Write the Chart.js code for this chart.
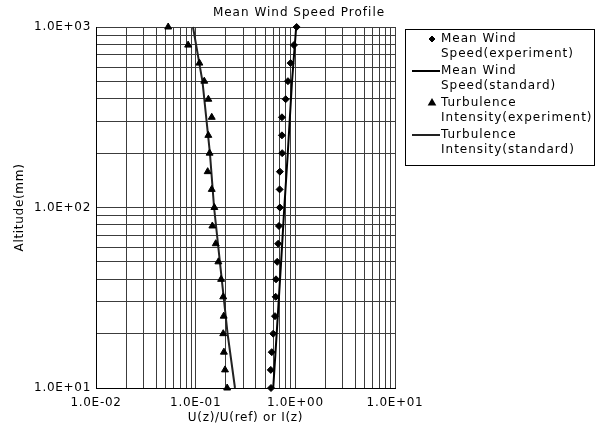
<!DOCTYPE html>
<html>
<head>
<meta charset="utf-8">
<script src="https://cdn.jsdelivr.net/npm/chart.js@4"></script>
<style>
  html, body { margin: 0; padding: 0; background: #fff; }
</style>
</head>
<body>
<canvas id="chart" width="598" height="430"></canvas>
<script>
let heightsExp = [10, 12.6, 15.8, 20, 25, 32, 40, 50, 63, 79, 100, 126, 158, 200, 251, 316, 398, 501, 631, 794, 1000];
let meanExp = [0.57, 0.567, 0.58, 0.60, 0.625, 0.635, 0.64, 0.658, 0.672, 0.685, 0.70, 0.696, 0.70, 0.738, 0.734, 0.734, 0.80, 0.843, 0.897, 0.968, 1.03];
let tiExp = [0.207, 0.197, 0.192, 0.189, 0.191, 0.189, 0.18, 0.169, 0.159, 0.147, 0.154, 0.145, 0.132, 0.138, 0.134, 0.145, 0.134, 0.122, 0.109, 0.084, 0.053];

// standard profiles
let heightsStd = [10, 20, 50, 100, 200, 500, 1000];
let meanStd = [0.60, 0.65, 0.72, 0.775, 0.84, 0.926, 1.02];
let tiStd = [0.248, 0.209, 0.175, 0.153, 0.139, 0.117, 0.094];

let seriesNames = [
  ['Mean Wind', 'Speed(experiment)'],
  ['Mean Wind', 'Speed(standard)'],
  ['Turbulence', 'Intensity(experiment)'],
  ['Turbulence', 'Intensity(standard)']
];
let xDecades = [0.01, 0.1, 1, 10];
let yDecades = [10, 100, 1000];
let titleText = 'Mean Wind Speed Profile';
let xTitle = 'U(z)/U(ref) or I(z)';
let yTitle = 'Altitude(mm)';

const FONT = 'DejaVu Sans';
const GRID = '#3c3c3c';

function toPoints(xs, ys) {
  return xs.map((x, i) => ({ x: x, y: ys[i] }));
}

// 1..9 x 10^n for each decade
function logTicks(decades) {
  let ticks = [];
  decades.forEach((d, i) => {
    ticks.push({ value: d, major: true });
    if (i < decades.length - 1) {
      for (let m = 2; m <= 9; m++) ticks.push({ value: m * d, major: false });
    }
  });
  return ticks;
}

function sciLabel(v) {
  let exp = Math.floor(Math.log10(v) + 1e-9);
  let mant = (v / Math.pow(10, exp)).toFixed(1);
  let sign = exp < 0 ? '-' : '+';
  return mant + 'E' + sign + String(Math.abs(exp)).padStart(2, '0');
}

// the original font is spaced out a little
const spacing = {
  id: 'spacing',
  beforeDraw(chart) {
    chart.ctx.letterSpacing = '0.7px';
  }
};

// title centred on the canvas + boxed legend with two-line labels
const titleAndLegend = {
  id: 'titleAndLegend',
  afterDraw(chart) {
    const ctx = chart.ctx;
    ctx.save();
    ctx.letterSpacing = '1px';
    ctx.fillStyle = '#000';
    ctx.font = '12px "' + FONT + '"';
    ctx.textAlign = 'center';
    ctx.textBaseline = 'middle';
    ctx.fillText(titleText, 299, 13);

    ctx.strokeStyle = '#000';
    ctx.lineWidth = 1;
    ctx.strokeRect(405.5, 29.5, 189, 136);

    ctx.textAlign = 'left';
    chart.data.datasets.forEach((ds, i) => {
      let y = 39 + i * 32;
      if (ds.showLine) {
        ctx.strokeStyle = ds.borderColor;
        ctx.lineWidth = ds.borderWidth;
        ctx.beginPath();
        ctx.moveTo(412, y);
        ctx.lineTo(440, y);
        ctx.stroke();
      } else {
        ctx.fillStyle = '#000';
        ctx.strokeStyle = '#000';
        Chart.helpers.drawPoint(ctx, { pointStyle: ds.pointStyle, radius: 3, borderWidth: 1, rotation: 0 }, 432, y);
      }
      ctx.fillStyle = '#000';
      ctx.fillText(seriesNames[i][0], 441, y);
      ctx.fillText(seriesNames[i][1], 441, y + 14.5);
    });
    ctx.restore();
  }
};

let chart = new Chart(document.getElementById('chart').getContext('2d'), {
  type: 'scatter',
  data: {
    datasets: [{
      label: seriesNames[0].join(' '),
      data: toPoints(meanExp, heightsExp),
      pointStyle: 'rectRot',
      pointRadius: 3.5,
      backgroundColor: '#000',
      borderColor: '#000',
      showLine: false,
      clip: false
    }, {
      label: seriesNames[1].join(' '),
      data: toPoints(meanStd, heightsStd),
      showLine: true,
      pointRadius: 0,
      borderColor: '#000',
      borderWidth: 2,
      clip: false
    }, {
      label: seriesNames[2].join(' '),
      data: toPoints(tiExp, heightsExp),
      pointStyle: 'triangle',
      pointRadius: 4,
      backgroundColor: '#000',
      borderColor: '#000',
      showLine: false,
      clip: false
    }, {
      label: seriesNames[3].join(' '),
      data: toPoints(tiStd, heightsStd),
      showLine: true,
      pointRadius: 0,
      borderColor: '#222',
      borderWidth: 2,
      clip: false
    }]
  },
  options: {
    responsive: false,
    animation: false,
    layout: { padding: { top: 27, right: 203, left: 0, bottom: 0 } },
    plugins: {
      legend: { display: false },
      title: { display: false },
      tooltip: { enabled: false }
    },
    scales: {
      x: {
        type: 'logarithmic',
        min: xDecades[0],
        max: xDecades[xDecades.length - 1],
        afterBuildTicks: (scale) => { scale.ticks = logTicks(xDecades); },
        afterFit: (scale) => { scale.height = 42; },
        grid: { color: GRID, lineWidth: 1, drawTicks: false },
        border: { color: '#000', width: 1 },
        ticks: {
          autoSkip: false,
          maxRotation: 0,
          padding: 8,
          color: '#000',
          font: { family: FONT, size: 12 },
          callback: (v, i, ticks) => ticks[i].major ? sciLabel(v) : ''
        },
        title: {
          display: true,
          text: xTitle,
          color: '#000',
          font: { family: FONT, size: 12 },
          padding: { top: 0, bottom: 5 }
        }
      },
      y: {
        type: 'logarithmic',
        min: yDecades[0],
        max: yDecades[yDecades.length - 1],
        afterBuildTicks: (scale) => { scale.ticks = logTicks(yDecades); },
        afterFit: (scale) => { scale.width = 96; },
        grid: { color: GRID, lineWidth: 1, drawTicks: false },
        border: { color: '#000', width: 1 },
        ticks: {
          autoSkip: false,
          padding: 5,
          color: '#000',
          font: { family: FONT, size: 12 },
          callback: (v, i, ticks) => ticks[i].major ? sciLabel(v) : ''
        },
        title: {
          display: true,
          text: yTitle,
          color: '#000',
          font: { family: FONT, size: 12 },
          padding: { top: 13, bottom: 0 }
        }
      }
    }
  },
  plugins: [spacing, titleAndLegend]
});
</script>
</body>
</html>
